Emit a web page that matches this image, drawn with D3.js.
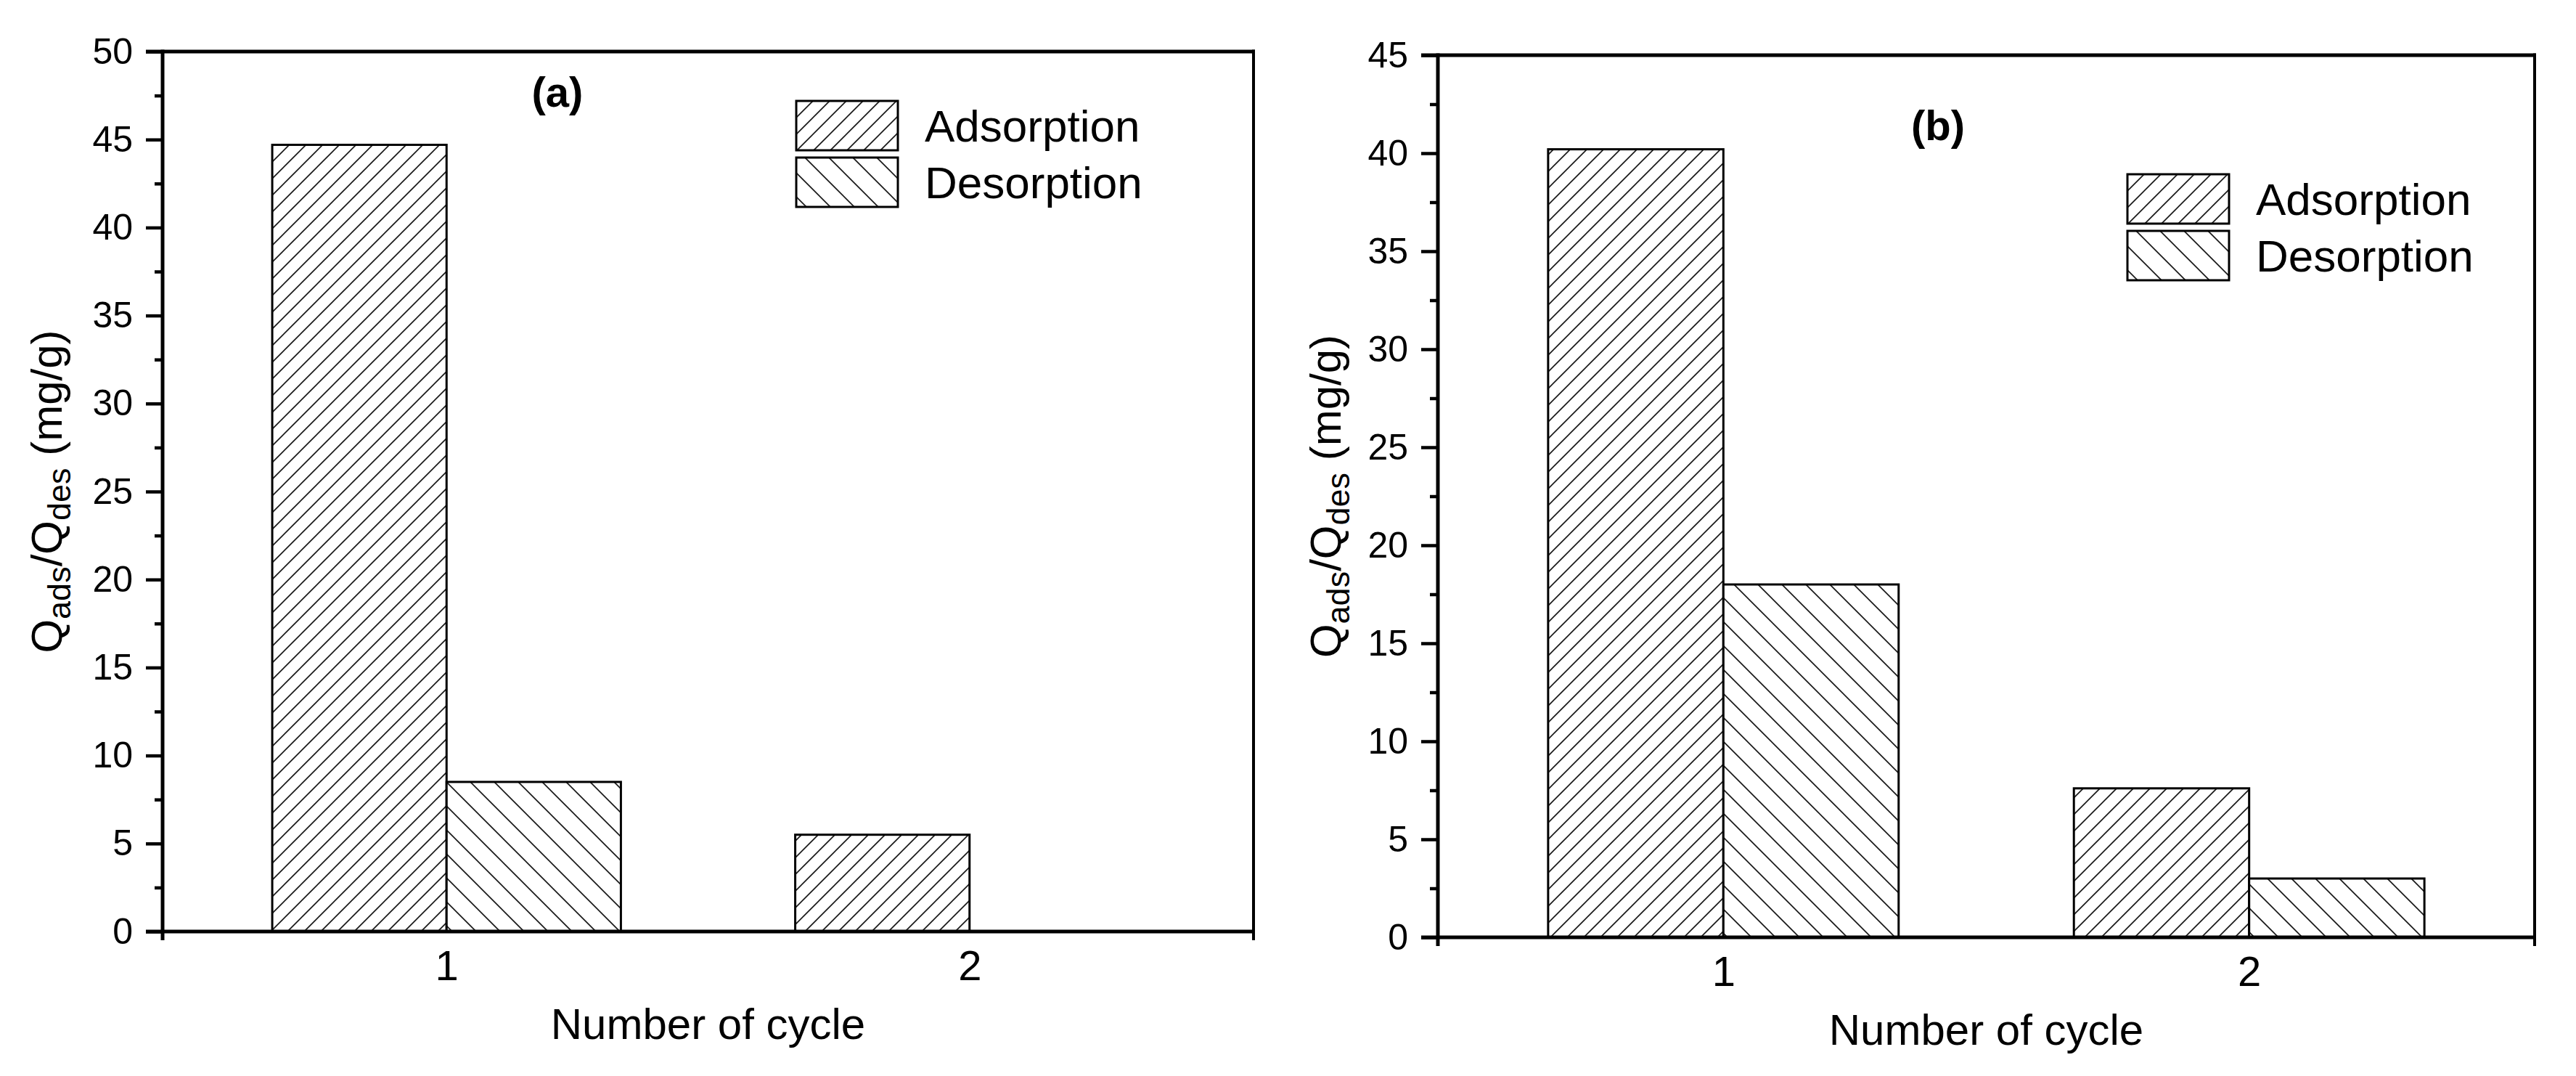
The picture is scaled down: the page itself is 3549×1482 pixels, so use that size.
<!DOCTYPE html>
<html>
<head>
<meta charset="utf-8">
<script src="https://cdn.jsdelivr.net/npm/d3@7"></script>
<style>
  html, body { margin: 0; padding: 0; background: #fff; }
  svg { display: block; }
  text { font-family: "Liberation Sans", Arial, Helvetica, sans-serif; fill: #000; }
</style>
</head>
<body>
<svg id="chart" width="3549" height="1482"></svg>
<script>
// ---------- data ----------
const categories = [1, 2];
const seriesNames = ["Adsorption", "Desorption"];
const adsorptionA = [44.7, 5.5];
const desorptionA = [8.5, 0];
const adsorptionB = [40.2, 7.6];
const desorptionB = [18.0, 3.0];
const yTicksA = [0, 5, 10, 15, 20, 25, 30, 35, 40, 45, 50];
const yTicksB = [0, 5, 10, 15, 20, 25, 30, 35, 40, 45];
const panelLabels = ["(a)", "(b)"];
const xTitle = "Number of cycle";

// ---------- layout ----------
const panels = [
  { label: panelLabels[0], ads: adsorptionA, des: desorptionA, yMax: 50, ticks: yTicksA,
    x0: 224, x1: 1727, yTop: 71, yBot: 1283,
    labelPos: [768, 147], legend: { x: 1097, y: 139 }, titleX: 85 },
  { label: panelLabels[1], ads: adsorptionB, des: desorptionB, yMax: 45, ticks: yTicksB,
    x0: 1981, x1: 3492, yTop: 76, yBot: 1291,
    labelPos: [2670, 193], legend: { x: 2931, y: 240 }, titleX: 1847 }
];

const svg = d3.select("#chart");
const defs = svg.append("defs");

function hatch(id, period, dir) {
  const p = defs.append("pattern")
    .attr("id", id).attr("patternUnits", "userSpaceOnUse")
    .attr("width", period).attr("height", period);
  p.append("rect").attr("width", period).attr("height", period).attr("fill", "#fff");
  const h = period / 2;
  const d = dir === "/"
    ? `M0,${period} L${period},0 M${-h},${h} L${h},${-h} M${h},${period + h} L${period + h},${h}`
    : `M0,0 L${period},${period} M${-h},${h} L${h},${period + h} M${h},${-h} L${period + h},${h}`;
  p.append("path").attr("d", d).attr("stroke", "#1a1a1a").attr("stroke-width", 1.7).attr("fill", "none");
}
hatch("hatchAds", 23, "/");
hatch("hatchDes", 33, "\\");
const fills = ["url(#hatchAds)", "url(#hatchDes)"];

const tickFont = 50, xTickFont = 58, titleFont = 60, legendFont = 62, labelFont = 58;

panels.forEach(P => {
  const g = svg.append("g");
  const x = d3.scaleLinear().domain([0.457, 2.543]).range([P.x0, P.x1]);
  const y = d3.scaleLinear().domain([0, P.yMax]).range([P.yBot, P.yTop]);
  const barW = 1 / 3;

  // bars
  const rows = [];
  categories.forEach((c, i) => {
    rows.push({ c, v: P.ads[i], s: 0 });
    rows.push({ c, v: P.des[i], s: 1 });
  });
  g.selectAll("rect.bar").data(rows).enter().append("rect")
    .attr("class", "bar")
    .attr("x", d => x(d.s === 0 ? d.c - barW : d.c))
    .attr("width", d => x(d.c + barW) - x(d.c))
    .attr("y", d => y(d.v))
    .attr("height", d => y(0) - y(d.v))
    .attr("fill", d => fills[d.s])
    .attr("stroke", "#000").attr("stroke-width", 3);

  // y axis major ticks + labels
  const yAxis = d3.axisLeft(y).tickValues(P.ticks).tickSize(23).tickPadding(18).tickFormat(d3.format("d"));
  const ya = g.append("g").attr("transform", `translate(${P.x0},0)`).call(yAxis);
  ya.select(".domain").remove();
  ya.selectAll("line").attr("stroke", "#000").attr("stroke-width", 4.5);
  ya.selectAll("text").attr("font-size", tickFont).attr("fill", "#000")
    .style("font-family", '"Liberation Sans", Arial, sans-serif');

  // minor ticks
  const minor = d3.range(2.5, P.yMax, 5);
  const ym = g.append("g").attr("transform", `translate(${P.x0},0)`)
    .call(d3.axisLeft(y).tickValues(minor).tickSize(11).tickFormat(""));
  ym.select(".domain").remove();
  ym.selectAll("line").attr("stroke", "#000").attr("stroke-width", 4.5);

  // x axis labels
  const xa = g.append("g").attr("transform", `translate(0,${P.yBot})`)
    .call(d3.axisBottom(x).tickValues(categories).tickSize(0).tickPadding(26).tickFormat(d3.format("d")));
  xa.select(".domain").remove();
  xa.selectAll("text").attr("font-size", xTickFont).attr("fill", "#000")
    .style("font-family", '"Liberation Sans", Arial, sans-serif');

  // frame
  const lw = 5;
  g.append("line").attr("x1", P.x0).attr("x2", P.x0).attr("y1", P.yTop - lw / 2).attr("y2", P.yBot + 12)
    .attr("stroke", "#000").attr("stroke-width", lw);
  g.append("line").attr("x1", P.x1).attr("x2", P.x1).attr("y1", P.yTop - lw / 2).attr("y2", P.yBot + 12)
    .attr("stroke", "#000").attr("stroke-width", 4);
  g.append("line").attr("x1", P.x0 - 23).attr("x2", P.x1 + 2).attr("y1", P.yTop).attr("y2", P.yTop)
    .attr("stroke", "#000").attr("stroke-width", lw);
  g.append("line").attr("x1", P.x0 - 23).attr("x2", P.x1 + 2).attr("y1", P.yBot).attr("y2", P.yBot)
    .attr("stroke", "#000").attr("stroke-width", lw);

  // panel label
  g.append("text").attr("x", P.labelPos[0]).attr("y", P.labelPos[1])
    .attr("text-anchor", "middle").attr("font-size", labelFont).attr("font-weight", "bold")
    .text(P.label);

  // x title
  g.append("text").attr("x", (P.x0 + P.x1) / 2).attr("y", P.yBot + 148)
    .attr("text-anchor", "middle").attr("font-size", titleFont).text(xTitle);

  // y title
  const yt = g.append("text")
    .attr("transform", `translate(${P.titleX},${(P.yTop + P.yBot) / 2}) rotate(-90)`)
    .attr("text-anchor", "middle").attr("font-size", titleFont);
  yt.append("tspan").text("Q");
  yt.append("tspan").attr("font-size", 45).attr("dy", 12).text("ads");
  yt.append("tspan").attr("dy", -12).text("/Q");
  yt.append("tspan").attr("font-size", 45).attr("dy", 12).text("des");
  yt.append("tspan").attr("dy", -12).text(" (mg/g)");

  // legend
  const lg = g.append("g").attr("transform", `translate(${P.legend.x},${P.legend.y})`);
  seriesNames.forEach((name, i) => {
    const yy = i * 78;
    lg.append("rect").attr("x", 0).attr("y", yy).attr("width", 140).attr("height", 68)
      .attr("fill", fills[i]).attr("stroke", "#000").attr("stroke-width", 3);
    lg.append("text").attr("x", 177).attr("y", yy + 56).attr("font-size", legendFont).text(name);
  });
});
</script>
</body>
</html>
